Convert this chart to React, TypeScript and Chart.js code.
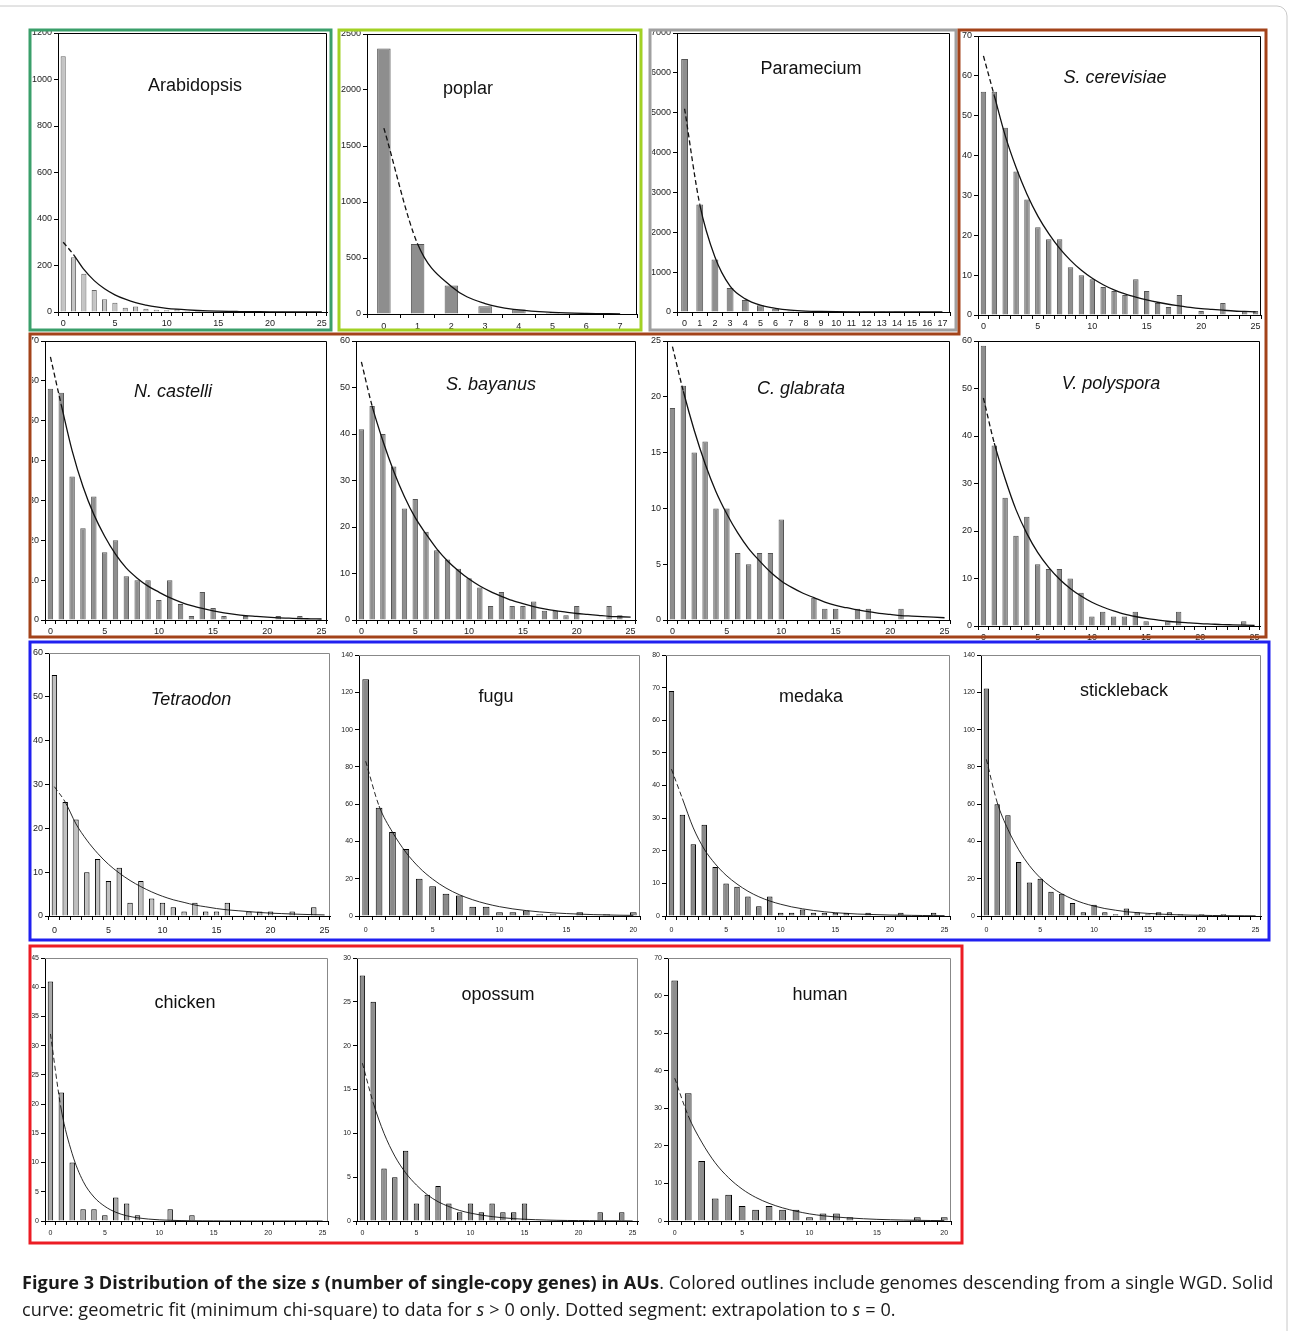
import React, { useEffect, useRef } from 'react';
import { Chart, registerables } from 'chart.js';

Chart.register(...registerables);

// ---------- category labels (s = number of single-copy genes) ----------
const sizes0to25 = ['0','1','2','3','4','5','6','7','8','9','10','11','12','13','14','15','16','17','18','19','20','21','22','23','24','25'];
const sizes0to20 = ['0','1','2','3','4','5','6','7','8','9','10','11','12','13','14','15','16','17','18','19','20'];
const sizes0to17 = ['0','1','2','3','4','5','6','7','8','9','10','11','12','13','14','15','16','17'];
const sizes0to7 = ['0','1','2','3','4','5','6','7'];

const arabidopsisCounts = [1100, 235, 165, 95, 55, 40, 18, 24, 14, 10, 8, 12, 4, 5, 3, 2, 1, 1, 1, 1, 1, 1, 0, 0, 0, 0];
const arabidopsisFit = [300, 247, 183, 135, 100, 74, 55, 40, 30, 22, 16, 12, 9, 6.5, 4.8, 3.6, 2.6, 2, 1.5, 1.1, 0.8, 0.6, 0.4, 0.3, 0.2, 0.2];

const poplarCounts = [2370, 625, 255, 70, 40, 10, 10, 0];
const poplarFit = [1660, 625, 245, 92, 36, 14, 5, 2];

const parameciumCounts = [6350, 2700, 1320, 600, 300, 170, 80, 40, 20, 10, 5, 3, 2, 1, 1, 0, 0, 0];
const parameciumFit = [5100, 2700, 1380, 650, 330, 170, 90, 45, 22, 12, 6, 3, 1.5, 0.8, 0.4, 0.2, 0.1, 0.05];

const cerevisiaeCounts = [56, 56, 47, 36, 29, 22, 19, 19, 12, 10, 9, 7, 6, 5, 9, 6, 3, 2, 5, 0, 1, 0, 3, 0, 1, 1];
const cerevisiaeFit = [65, 55, 45, 37, 30.3, 24.8, 20.4, 16.7, 13.7, 11.2, 9.2, 7.6, 6.3, 5.3, 4.5, 3.8, 3.2, 2.7, 2.3, 1.9, 1.6, 1.4, 1.2, 1.0, 0.9, 0.8];

const castelliCounts = [58, 57, 36, 23, 31, 17, 20, 11, 10, 10, 5, 10, 4, 1, 7, 3, 1, 0, 1, 0, 0, 1, 0, 1, 0, 0];
const castelliFit = [66, 54, 42.5, 33.5, 26.5, 21, 16.5, 13, 10.5, 8.5, 7, 5.6, 4.5, 3.6, 2.9, 2.3, 1.8, 1.4, 1.1, 0.9, 0.7, 0.55, 0.45, 0.35, 0.3, 0.25];

const bayanusCounts = [41, 46, 40, 33, 24, 26, 19, 15, 13, 11, 9, 7, 3, 6, 3, 3, 4, 2, 2, 1, 3, 0, 0, 3, 1, 0];
const bayanusFit = [55.5, 46, 38.5, 32, 26.5, 22, 18.5, 15.3, 12.7, 10.6, 8.8, 7.3, 6.1, 5.1, 4.2, 3.5, 2.9, 2.4, 2.0, 1.7, 1.4, 1.2, 1.0, 0.8, 0.7, 0.6];

const glabrataCounts = [19, 21, 15, 16, 10, 10, 6, 5, 6, 6, 9, 0, 0, 2, 1, 1, 0, 1, 1, 0, 0, 1, 0, 0, 0, 0];
const glabrataFit = [24.5, 20.5, 17, 14, 11.5, 9.5, 7.8, 6.4, 5.3, 4.3, 3.5, 2.9, 2.4, 2.0, 1.6, 1.3, 1.1, 0.9, 0.75, 0.6, 0.5, 0.4, 0.35, 0.3, 0.25, 0.2];

const polysporaCounts = [59, 38, 27, 19, 23, 13, 12, 12, 10, 7, 2, 3, 2, 2, 3, 1, 0, 1, 3, 0, 0, 0, 0, 0, 1, 0];
const polysporaFit = [48, 38.5, 31, 24.5, 19.5, 15.5, 12.4, 9.9, 7.9, 6.3, 5, 4, 3.2, 2.5, 2, 1.6, 1.3, 1, 0.8, 0.65, 0.5, 0.4, 0.3, 0.25, 0.2, 0.15];

const tetraodonCounts = [55, 26, 22, 10, 13, 8, 11, 3, 8, 4, 3, 2, 1, 3, 1, 1, 3, 0, 1, 1, 1, 0, 1, 0, 2, 0];
const tetraodonFit = [29.5, 26, 21, 17.3, 14.3, 11.8, 9.8, 8.1, 6.7, 5.5, 4.5, 3.7, 3.1, 2.5, 2.1, 1.7, 1.4, 1.2, 1.0, 0.8, 0.65, 0.55, 0.45, 0.37, 0.3, 0.25];

const fuguCounts = [127, 58, 45, 36, 20, 16, 12, 11, 5, 5, 2, 2, 3, 1, 1, 0, 2, 0, 1, 0, 2];
const fuguFit = [83, 59, 45, 34.2, 26, 19.8, 15, 11.4, 8.7, 6.6, 5, 3.8, 2.9, 2.2, 1.7, 1.3, 1.0, 0.75, 0.57, 0.43, 0.33];

const medakaCounts = [69, 31, 22, 28, 15, 10, 9, 6, 3, 6, 1, 1, 2, 1, 1, 1, 1, 0, 1, 0, 0, 1, 0, 0, 1, 0];
const medakaFit = [45, 36, 27, 20.5, 16, 12.5, 9.8, 7.6, 5.9, 4.6, 3.6, 2.8, 2.2, 1.7, 1.3, 1.0, 0.8, 0.6, 0.5, 0.4, 0.3, 0.25, 0.2, 0.15, 0.12, 0.1];

const sticklebackCounts = [122, 60, 54, 29, 18, 20, 13, 12, 7, 2, 6, 2, 1, 4, 2, 1, 2, 2, 1, 0, 1, 0, 1, 0, 0, 0];
const sticklebackFit = [84, 61, 46.5, 35.5, 27, 20.5, 15.6, 11.9, 9.1, 6.9, 5.3, 4, 3.1, 2.3, 1.8, 1.4, 1.05, 0.8, 0.6, 0.47, 0.36, 0.27, 0.2, 0.16, 0.12, 0.09];

const chickenCounts = [41, 22, 10, 2, 2, 1, 4, 3, 1, 0, 0, 2, 0, 1, 0, 0, 0, 0, 0, 0, 0, 0, 0, 0, 0, 0];
const chickenFit = [32, 19, 11.5, 6.8, 4.1, 2.5, 1.5, 0.9, 0.55, 0.33, 0.2, 0.12, 0.07, 0.04, 0.03, 0.02, 0.01, 0.01, 0, 0, 0, 0, 0, 0, 0, 0];

const opossumCounts = [28, 25, 6, 5, 8, 2, 3, 4, 2, 1, 2, 1, 2, 1, 1, 2, 0, 0, 0, 0, 0, 0, 1, 0, 1, 0];
const opossumFit = [18, 13.5, 10, 7.4, 5.5, 4.1, 3, 2.2, 1.65, 1.2, 0.9, 0.67, 0.5, 0.37, 0.27, 0.2, 0.15, 0.11, 0.08, 0.06, 0.05, 0.04, 0.03, 0.02, 0.02, 0.01];

const humanCounts = [64, 34, 16, 6, 7, 4, 3, 4, 3, 3, 1, 2, 2, 1, 0, 0, 0, 0, 1, 0, 1];
const humanFit = [38, 28, 21, 15.5, 11.5, 8.5, 6.3, 4.7, 3.5, 2.6, 1.9, 1.4, 1.05, 0.8, 0.6, 0.44, 0.33, 0.25, 0.18, 0.13, 0.1];

type Spec = {
  name: string;
  italic: boolean;
  sizes: string[];
  counts: number[];
  fit: number[];
  yMax: number;
  yStep: number;
  labelEvery: number;
  box: [number, number, number, number];
  clipLeft: number;
  title: [number, number];
  fill: string;
  edge: string;
  barFrac: number;
  tick: number;
  line: number;
  plotEdge: string;
  xLabelGap: number;
};

const LIGHT = '#c4c4c4';
const MID = '#8e8e8e';

const panels: Spec[] = [
  { name: 'Arabidopsis', italic: false, sizes: sizes0to25, counts: arabidopsisCounts, fit: arabidopsisFit, yMax: 1200, yStep: 200, labelEvery: 5, box: [58, 33, 327, 312], clipLeft: 32, title: [195, 85], fill: LIGHT, edge: '#666', barFrac: 0.5, tick: 9, line: 1.3, plotEdge: '#000', xLabelGap: 2 },
  { name: 'poplar', italic: false, sizes: sizes0to7, counts: poplarCounts, fit: poplarFit, yMax: 2500, yStep: 500, labelEvery: 1, box: [367, 34, 637, 314], clipLeft: 341, title: [468, 88], fill: MID, edge: '#555', barFrac: 0.4, tick: 9, line: 1.3, plotEdge: '#000', xLabelGap: 3 },
  { name: 'Paramecium', italic: false, sizes: sizes0to17, counts: parameciumCounts, fit: parameciumFit, yMax: 7000, yStep: 1000, labelEvery: 1, box: [677, 33, 950, 312], clipLeft: 652, title: [811, 68], fill: MID, edge: '#555', barFrac: 0.45, tick: 9, line: 1.3, plotEdge: '#000', xLabelGap: 2 },
  { name: 'S. cerevisiae', italic: true, sizes: sizes0to25, counts: cerevisiaeCounts, fit: cerevisiaeFit, yMax: 70, yStep: 10, labelEvery: 5, box: [978, 36, 1261, 315], clipLeft: 961, title: [1115, 77], fill: MID, edge: '#555', barFrac: 0.5, tick: 9, line: 1.3, plotEdge: '#000', xLabelGap: 2 },
  { name: 'N. castelli', italic: true, sizes: sizes0to25, counts: castelliCounts, fit: castelliFit, yMax: 70, yStep: 10, labelEvery: 5, box: [45, 341, 327, 620], clipLeft: 32, title: [173, 391], fill: MID, edge: '#555', barFrac: 0.5, tick: 9, line: 1.3, plotEdge: '#000', xLabelGap: 2 },
  { name: 'S. bayanus', italic: true, sizes: sizes0to25, counts: bayanusCounts, fit: bayanusFit, yMax: 60, yStep: 10, labelEvery: 5, box: [356, 341, 636, 620], clipLeft: 330, title: [491, 384], fill: MID, edge: '#555', barFrac: 0.5, tick: 9, line: 1.3, plotEdge: '#000', xLabelGap: 2 },
  { name: 'C. glabrata', italic: true, sizes: sizes0to25, counts: glabrataCounts, fit: glabrataFit, yMax: 25, yStep: 5, labelEvery: 5, box: [667, 341, 950, 620], clipLeft: 642, title: [801, 388], fill: MID, edge: '#555', barFrac: 0.5, tick: 9, line: 1.3, plotEdge: '#000', xLabelGap: 2 },
  { name: 'V. polyspora', italic: true, sizes: sizes0to25, counts: polysporaCounts, fit: polysporaFit, yMax: 60, yStep: 10, labelEvery: 5, box: [978, 341, 1260, 626], clipLeft: 960, title: [1111, 383], fill: MID, edge: '#555', barFrac: 0.5, tick: 9, line: 1.3, plotEdge: '#000', xLabelGap: 2 },
  { name: 'Tetraodon', italic: true, sizes: sizes0to25, counts: tetraodonCounts, fit: tetraodonFit, yMax: 60, yStep: 10, labelEvery: 5, box: [49, 653, 330, 916], clipLeft: 32, title: [191, 699], fill: '#c0c0c0', edge: '#000', barFrac: 0.5, tick: 9, line: 0.9, plotEdge: '#888', xLabelGap: 5 },
  { name: 'fugu', italic: false, sizes: sizes0to20, counts: fuguCounts, fit: fuguFit, yMax: 140, yStep: 20, labelEvery: 5, box: [359, 655, 640, 916], clipLeft: 335, title: [496, 696], fill: '#8a8a8a', edge: '#000', barFrac: 0.5, tick: 7, line: 0.9, plotEdge: '#888', xLabelGap: 6 },
  { name: 'medaka', italic: false, sizes: sizes0to25, counts: medakaCounts, fit: medakaFit, yMax: 80, yStep: 10, labelEvery: 5, box: [666, 655, 950, 916], clipLeft: 645, title: [811, 696], fill: '#8a8a8a', edge: '#000', barFrac: 0.5, tick: 7, line: 0.9, plotEdge: '#888', xLabelGap: 6 },
  { name: 'stickleback', italic: false, sizes: sizes0to25, counts: sticklebackCounts, fit: sticklebackFit, yMax: 140, yStep: 20, labelEvery: 5, box: [981, 655, 1261, 916], clipLeft: 960, title: [1124, 690], fill: '#8a8a8a', edge: '#000', barFrac: 0.5, tick: 7, line: 0.9, plotEdge: '#888', xLabelGap: 6 },
  { name: 'chicken', italic: false, sizes: sizes0to25, counts: chickenCounts, fit: chickenFit, yMax: 45, yStep: 5, labelEvery: 5, box: [45, 958, 328, 1221], clipLeft: 32, title: [185, 1002], fill: '#a8a8a8', edge: '#000', barFrac: 0.5, tick: 7, line: 0.9, plotEdge: '#888', xLabelGap: 4 },
  { name: 'opossum', italic: false, sizes: sizes0to25, counts: opossumCounts, fit: opossumFit, yMax: 30, yStep: 5, labelEvery: 5, box: [357, 958, 638, 1221], clipLeft: 335, title: [498, 994], fill: '#8e8e8e', edge: '#000', barFrac: 0.5, tick: 7, line: 0.9, plotEdge: '#888', xLabelGap: 4 },
  { name: 'human', italic: false, sizes: sizes0to20, counts: humanCounts, fit: humanFit, yMax: 70, yStep: 10, labelEvery: 5, box: [668, 958, 951, 1221], clipLeft: 650, title: [820, 994], fill: '#8e8e8e', edge: '#000', barFrac: 0.5, tick: 7, line: 0.9, plotEdge: '#888', xLabelGap: 4 },
];

const PAD_TOP = 8;
const PAD_RIGHT = 6;
const X_AXIS_H = 22;

function Panel({ spec }: { spec: Spec }) {
  const ref = useRef<HTMLCanvasElement>(null);
  const [L, T, R, B] = spec.box;
  const yAxisW = L - spec.clipLeft;
  const width = R - spec.clipLeft + PAD_RIGHT;
  const height = B - T + PAD_TOP + X_AXIS_H;

  useEffect(() => {
    if (!ref.current) return;
    const framePlugin = {
      id: 'plotFrame',
      afterDraw(chart: any) {
        const { ctx, chartArea: a } = chart;
        ctx.save();
        ctx.strokeStyle = spec.plotEdge;
        ctx.lineWidth = 1;
        ctx.beginPath();
        ctx.moveTo(a.left, a.top + 0.5);
        ctx.lineTo(a.right - 0.5, a.top + 0.5);
        ctx.lineTo(a.right - 0.5, a.bottom);
        ctx.stroke();
        ctx.restore();
      },
    };
    const tickFont = { family: '"Liberation Sans", Arial, sans-serif', size: spec.tick };
    const chart = new Chart(ref.current, {
      type: 'bar',
      data: {
        labels: spec.sizes,
        datasets: [
          {
            type: 'line',
            data: spec.fit,
            borderColor: '#111',
            borderWidth: spec.line,
            pointRadius: 0,
            tension: 0.4,
            cubicInterpolationMode: 'monotone',
            fill: false,
            order: 0,
            segment: {
              borderDash: (c: any) => (c.p0DataIndex === 0 ? [5, 3] : undefined),
            },
          } as any,
          {
            type: 'bar',
            data: spec.counts,
            backgroundColor: spec.fill,
            borderColor: spec.edge,
            borderWidth: 1,
            categoryPercentage: 1,
            barPercentage: spec.barFrac,
            order: 1,
          } as any,
        ],
      },
      options: {
        responsive: false,
        maintainAspectRatio: false,
        animation: false,
        layout: { padding: { top: PAD_TOP, right: PAD_RIGHT, left: 0, bottom: 0 } },
        plugins: { legend: { display: false }, tooltip: { enabled: false } },
        scales: {
          x: {
            type: 'category',
            offset: true,
            grid: { offset: true, drawOnChartArea: false, drawTicks: true, tickLength: 4, color: '#000' },
            border: { display: true, color: '#000', width: 1 },
            ticks: {
              autoSkip: false,
              maxRotation: 0,
              minRotation: 0,
              padding: spec.xLabelGap,
              color: '#222',
              font: tickFont,
              callback: (_v: any, i: number) => (i % spec.labelEvery === 0 ? spec.sizes[i] : ''),
            },
            afterFit: (s: any) => {
              s.height = X_AXIS_H;
            },
          },
          y: {
            min: 0,
            max: spec.yMax,
            grid: { drawOnChartArea: false, drawTicks: true, tickLength: 4, color: '#000' },
            border: { display: true, color: '#000', width: 1 },
            ticks: {
              stepSize: spec.yStep,
              padding: 2,
              color: '#222',
              font: tickFont,
              callback: (v: any) => String(v),
            },
            afterFit: (s: any) => {
              s.width = yAxisW;
            },
          },
        },
      } as any,
      plugins: [framePlugin],
    });
    return () => chart.destroy();
  }, []);

  return (
    <>
      <canvas
        ref={ref}
        width={width}
        height={height}
        style={{ position: 'absolute', left: spec.clipLeft, top: T - PAD_TOP, width, height }}
      />
      <div
        style={{
          position: 'absolute',
          left: spec.title[0],
          top: spec.title[1],
          transform: 'translate(-50%, -50%)',
          fontFamily: '"Liberation Sans", Arial, sans-serif',
          fontSize: 18,
          fontStyle: spec.italic ? 'italic' : 'normal',
          color: '#111',
          whiteSpace: 'nowrap',
        }}
      >
        {spec.name}
      </div>
    </>
  );
}

export default function App() {
  return (
    <div style={{ position: 'absolute', left: 0, top: 0, width: 1289, height: 1331, overflow: 'hidden', background: '#fff' }}>
      {panels.map((p) => (
        <Panel key={p.name} spec={p} />
      ))}
      <svg width={1289} height={1331} style={{ position: 'absolute', left: 0, top: 0, pointerEvents: 'none' }}>
        <rect x={-20} y={6} width={1307} height={1400} rx={10} fill="none" stroke="#c8c8c8" strokeWidth={1} />
        <rect x={30} y={30} width={301} height={300} fill="none" stroke="#3a9f6a" strokeWidth={3} />
        <rect x={339} y={30} width={302} height={300} fill="none" stroke="#a2d124" strokeWidth={3} />
        <rect x={650} y={30} width={306} height={300} fill="none" stroke="#a0a0a0" strokeWidth={3} />
        <path d="M959,30 H1266 V637 H30 V334 H959 Z" fill="none" stroke="#a3431a" strokeWidth={3} />
        <rect x={30} y={642} width={1239} height={298} fill="none" stroke="#2020f0" strokeWidth={3} />
        <rect x={30} y={946} width={932} height={297} fill="none" stroke="#ec1c24" strokeWidth={3} />
      </svg>
      <div
        style={{
          position: 'absolute',
          left: 22,
          top: 1269,
          fontFamily: '"Open Sans", sans-serif',
          fontSize: 18.1,
          letterSpacing: '0.07px',
          lineHeight: '27px',
          color: '#1a1a1a',
          whiteSpace: 'nowrap',
        }}
      >
        <b>
          Figure 3 Distribution of the size <i>s</i> (number of single-copy genes) in AUs
        </b>
        . Colored outlines include genomes descending from a single WGD. Solid
        <br />
        curve: geometric fit (minimum chi-square) to data for <i>s</i> &gt; 0 only. Dotted segment: extrapolation to <i>s</i> = 0.
      </div>
    </div>
  );
}
